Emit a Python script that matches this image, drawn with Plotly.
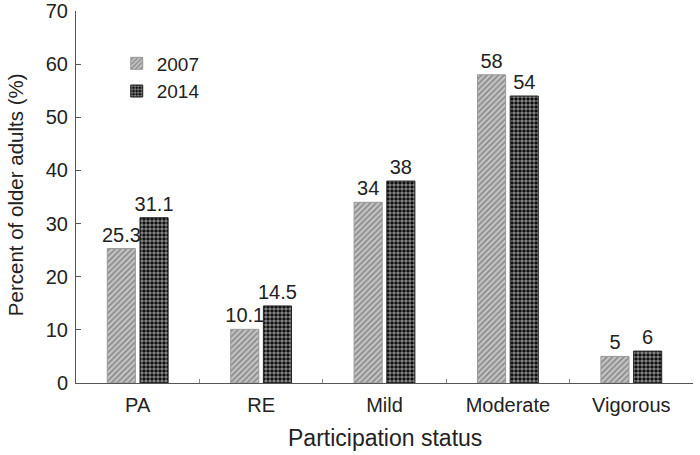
import plotly.graph_objects as go

categories = ["PA", "RE", "Mild", "Moderate", "Vigorous"]
values_2007 = [25.3, 10.1, 34, 58, 5]
values_2014 = [31.1, 14.5, 38, 54, 6]
labels_2007 = ["25.3", "10.1", "34", "58", "5"]
labels_2014 = ["31.1", "14.5", "38", "54", "6"]
y_ticks = [0, 10, 20, 30, 40, 50, 60, 70]

font = "Liberation Sans, Arial, sans-serif"

fig = go.Figure()
fig.add_trace(go.Bar(
    x=categories, y=values_2007, name="2007",
    text=labels_2007, textposition="outside", constraintext="none",
    textfont=dict(size=20, color="#222", family=font),
    marker=dict(color="#c8c8c8",
                pattern=dict(shape="/", fgcolor="#555555", bgcolor="#c8c8c8", size=4, solidity=0.5),
                line=dict(color="#999999", width=1)),
    cliponaxis=False,
))
fig.add_trace(go.Bar(
    x=categories, y=values_2014, name="2014",
    text=labels_2014, textposition="outside", constraintext="none",
    textfont=dict(size=20, color="#222", family=font),
    marker=dict(color="#555",
                pattern=dict(shape=".", fgcolor="white", bgcolor="black", size=4, solidity=0.62),
                line=dict(color="#222", width=1)),
    cliponaxis=False,
))

fig.update_layout(
    width=700, height=455,
    margin=dict(l=76, r=7, t=11, b=72),
    paper_bgcolor="white", plot_bgcolor="white",
    font=dict(family=font, size=20, color="#222"),
    barmode="group", bargap=0.47, bargroupgap=0.14,
    showlegend=True,
    legend=dict(x=0.066, y=0.91, xanchor="left", yanchor="top",
                font=dict(size=19), bgcolor="rgba(0,0,0,0)",
                tracegroupgap=0, itemwidth=30),
    xaxis=dict(
        automargin=False,
        showline=True, linecolor="#555", linewidth=1,
        ticks="inside", ticklen=4, tickcolor="#888", tickson="boundaries",
        tickfont=dict(size=20), showgrid=False, ticklabelstandoff=4,
    ),
    yaxis=dict(
        automargin=False,
        range=[0, 70], tickvals=y_ticks,
        showline=True, linecolor="#555", linewidth=1,
        ticks="inside", ticklen=5, tickcolor="#555",
        tickfont=dict(size=20), showgrid=False, zeroline=False,
        ticklabelstandoff=3, ticklabeloverflow="allow",
    ),
    annotations=[
        dict(text="Participation status", xref="paper", yref="paper",
             x=0.5, y=0, yshift=-55, xanchor="center", yanchor="middle",
             showarrow=False, font=dict(size=23)),
        dict(text="Percent of older adults (%)", xref="paper", yref="paper",
             x=0, y=0.505, xshift=-61, xanchor="center", yanchor="middle",
             textangle=-90, showarrow=False, font=dict(size=20.5)),
    ],
)

# remove the default 8px page margin so the figure sits at the window's corner
fig.write_html("out.html", config={"displayModeBar": False},
               post_script="document.body.style.margin='0px';")
